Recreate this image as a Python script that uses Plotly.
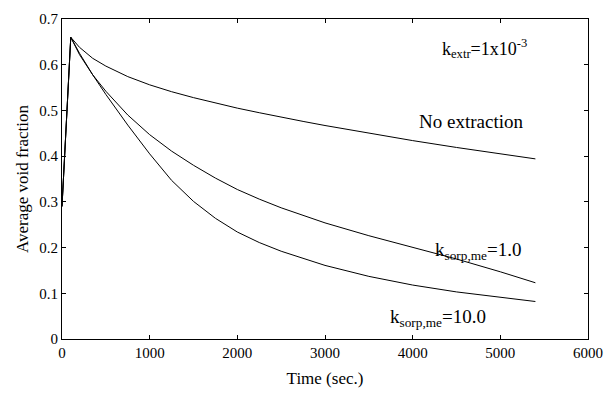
import plotly.graph_objects as go

time_s = [0, 100, 200, 350, 500, 750, 1000, 1250, 1500, 1750, 2000, 2250, 2500, 2750, 3000, 3500, 4000, 4500, 5000, 5400]
no_extraction = [0.29, 0.66, 0.638, 0.614, 0.597, 0.574, 0.556, 0.541, 0.528, 0.516, 0.505, 0.495, 0.485, 0.476, 0.467, 0.45, 0.434, 0.419, 0.405, 0.394]
k_sorp_1 = [0.29, 0.66, 0.622, 0.578, 0.542, 0.49, 0.447, 0.411, 0.38, 0.352, 0.327, 0.306, 0.287, 0.27, 0.254, 0.226, 0.2, 0.175, 0.147, 0.123]
k_sorp_10 = [0.29, 0.66, 0.625, 0.578, 0.535, 0.468, 0.405, 0.347, 0.301, 0.264, 0.234, 0.211, 0.192, 0.176, 0.161, 0.137, 0.118, 0.103, 0.091, 0.082]

x_ticks = [0, 1000, 2000, 3000, 4000, 5000, 6000]
y_ticks = [0, 0.1, 0.2, 0.3, 0.4, 0.5, 0.6, 0.7]
y_tick_text = ["0", "0.1", "0.2", "0.3", "0.4", "0.5", "0.6", "0.7"]

FONT = "Liberation Serif, Times New Roman, serif"

fig = go.Figure()
for name, ys in [("No extraction", no_extraction), ("k=1.0", k_sorp_1), ("k=10.0", k_sorp_10)]:
    fig.add_trace(go.Scatter(x=time_s, y=ys, mode="lines", name=name,
                             line=dict(color="black", width=1),
                             showlegend=False))

axis_common = dict(showline=True, linecolor="black", linewidth=1, mirror="ticks",
                   ticks="inside", ticklen=4, tickcolor="black", showgrid=False,
                   zeroline=False, tickfont=dict(family=FONT, size=15, color="black"))

fig.update_xaxes(range=[0, 6000], tickvals=x_ticks, tickformat="d",
                 title=dict(text="Time (sec.)", font=dict(family=FONT, size=17, color="black"), standoff=12),
                 **axis_common)
fig.update_yaxes(range=[0, 0.7], tickvals=y_ticks, ticktext=y_tick_text,
                 title=dict(text="Average void fraction", font=dict(family=FONT, size=17, color="black"), standoff=6),
                 **axis_common)

annotations = [
    dict(x=4815, y=0.635, text="k<sub>extr</sub>=1x10<sup>-3</sup>", size=18),
    dict(x=4670, y=0.475, text="No extraction", size=19),
    dict(x=4740, y=0.193, text="k<sub>sorp,me</sub>=1.0", size=19),
    dict(x=4290, y=0.046, text="k<sub>sorp,me</sub>=10.0", size=19),
]
for a in annotations:
    fig.add_annotation(x=a["x"], y=a["y"], text=a["text"], showarrow=False,
                       font=dict(family=FONT, size=a["size"], color="black"),
                       xanchor="center", yanchor="middle")

fig.update_layout(width=614, height=396, margin=dict(l=62, r=15, t=11, b=48),
                  paper_bgcolor="white", plot_bgcolor="white",
                  font=dict(family=FONT, color="black"))

fig.write_html("out.html")
